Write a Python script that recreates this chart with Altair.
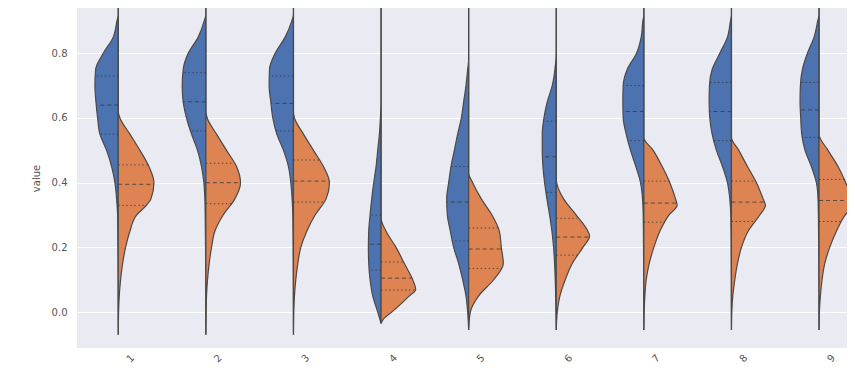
import altair as alt
import pandas as pd

# ---- categories / hues -------------------------------------------------
CATEGORIES = ["feature_1", "feature_2", "feature_3", "feature_4", "feature_5",
              "feature_6", "feature_7", "feature_8", "feature_9"]
HUES = ["0", "1"]
HUE_COLORS = ["#4C72B0", "#DD8452"]
DENSITY_UNIT = 262.8  # density reading that equals one category step

# ---- violin profiles: (value, density) ----------------------------------
V1_BLUE = [(0.95, 0), (0.92, 0), (0.90, 4), (0.85, 15), (0.80, 45), (0.75, 68), (0.70, 70),
           (0.65, 67), (0.60, 62), (0.55, 55), (0.50, 35), (0.45, 20), (0.40, 10), (0.35, 5),
           (0.30, 2), (0.20, 1), (0.10, 0.5), (0.00, 0.3), (-0.07, 0)]
V1_ORANGE = [(0.95, 0), (0.62, 0), (0.60, 5), (0.55, 35), (0.50, 65), (0.45, 92), (0.40, 107),
             (0.35, 98), (0.325, 80), (0.30, 55), (0.25, 35), (0.20, 22), (0.15, 13), (0.10, 7),
             (0.05, 3), (0.00, 1), (-0.07, 0)]
V2_BLUE = [(0.95, 0), (0.92, 0), (0.90, 5), (0.85, 23), (0.80, 53), (0.75, 68), (0.70, 71),
           (0.65, 68), (0.60, 58), (0.55, 43), (0.50, 25), (0.45, 13), (0.40, 6), (0.35, 3),
           (0.30, 2), (0.20, 1), (0.10, 0.5), (0.00, 0.3), (-0.07, 0)]
V2_ORANGE = [(0.95, 0), (0.62, 0), (0.60, 4), (0.55, 32), (0.50, 62), (0.45, 92), (0.40, 104),
             (0.35, 87), (0.30, 52), (0.25, 27), (0.20, 17), (0.15, 10), (0.10, 5), (0.05, 2),
             (0.00, 1), (-0.07, 0)]
V3_BLUE = [(0.95, 0), (0.92, 0), (0.90, 5), (0.85, 25), (0.80, 55), (0.75, 72), (0.70, 73),
           (0.65, 68), (0.60, 62), (0.55, 50), (0.50, 30), (0.45, 15), (0.40, 8), (0.35, 4),
           (0.30, 2), (0.20, 1), (0.10, 0.5), (0.00, 0.3), (-0.07, 0)]
V3_ORANGE = [(0.95, 0), (0.62, 0), (0.60, 3), (0.55, 30), (0.50, 60), (0.45, 90), (0.40, 108),
             (0.35, 98), (0.30, 65), (0.25, 40), (0.20, 22), (0.15, 13), (0.10, 7), (0.05, 3),
             (0.00, 1), (-0.07, 0)]
V4_BLUE = [(0.95, 0), (0.65, 0), (0.60, 2), (0.55, 5), (0.50, 10), (0.45, 15), (0.40, 22),
           (0.35, 28), (0.30, 33), (0.25, 37), (0.20, 38), (0.15, 37), (0.10, 33), (0.05, 25),
           (0.00, 10), (-0.035, 0)]
V4_ORANGE = [(0.95, 0), (0.29, 0), (0.25, 15), (0.20, 45), (0.15, 70), (0.10, 95), (0.07, 104),
             (0.05, 85), (0.00, 32), (-0.02, 8), (-0.035, 0)]
V5_BLUE = [(0.95, 0), (0.78, 0), (0.75, 3), (0.70, 8), (0.65, 15), (0.60, 22), (0.55, 33),
           (0.50, 43), (0.45, 53), (0.40, 60), (0.35, 66), (0.30, 64), (0.25, 55), (0.20, 45),
           (0.15, 30), (0.10, 18), (0.05, 8), (0.00, 3), (-0.055, 0)]
V5_ORANGE = [(0.95, 0), (0.43, 0), (0.40, 12), (0.35, 38), (0.30, 70), (0.25, 92), (0.20, 98),
             (0.15, 104), (0.10, 75), (0.05, 30), (0.00, 5), (-0.055, 0)]
V6_BLUE = [(0.95, 0), (0.80, 0), (0.75, 4), (0.70, 12), (0.65, 27), (0.60, 37), (0.55, 42),
           (0.50, 42), (0.45, 40), (0.40, 35), (0.35, 28), (0.30, 20), (0.25, 13), (0.20, 8),
           (0.15, 5), (0.10, 3), (0.00, 1), (-0.055, 0)]
V6_ORANGE = [(0.95, 0), (0.41, 0), (0.35, 22), (0.30, 60), (0.25, 95), (0.235, 100), (0.20, 80),
             (0.15, 48), (0.10, 27), (0.05, 11), (0.00, 3), (-0.055, 0)]
V7_BLUE = [(0.95, 0), (0.92, 0), (0.90, 3), (0.85, 8), (0.80, 22), (0.75, 50), (0.70, 62),
           (0.65, 63), (0.60, 62), (0.55, 53), (0.50, 40), (0.45, 24), (0.40, 10), (0.35, 4),
           (0.30, 2), (0.20, 1), (0.10, 0.5), (0.00, 0.3), (-0.055, 0)]
V7_ORANGE = [(0.95, 0), (0.54, 0), (0.50, 28), (0.45, 55), (0.40, 78), (0.35, 95), (0.33, 100),
             (0.30, 75), (0.25, 48), (0.20, 30), (0.15, 16), (0.10, 7), (0.05, 3), (0.00, 1),
             (-0.055, 0)]
V8_BLUE = [(0.95, 0), (0.92, 0), (0.90, 3), (0.85, 12), (0.80, 35), (0.75, 58), (0.70, 66),
           (0.65, 67), (0.60, 65), (0.55, 58), (0.50, 45), (0.45, 27), (0.40, 12), (0.35, 5),
           (0.30, 2), (0.20, 1), (0.10, 0.5), (0.00, 0.3), (-0.055, 0)]
V8_ORANGE = [(0.95, 0), (0.54, 0), (0.50, 22), (0.45, 48), (0.40, 75), (0.35, 95), (0.33, 102),
             (0.30, 85), (0.25, 50), (0.20, 30), (0.15, 18), (0.10, 10), (0.05, 4), (0.00, 1),
             (-0.055, 0)]
V9_BLUE = [(0.95, 0), (0.92, 0), (0.90, 4), (0.85, 15), (0.80, 35), (0.75, 50), (0.70, 56),
           (0.65, 57), (0.60, 55), (0.55, 52), (0.50, 42), (0.45, 23), (0.40, 8), (0.35, 3),
           (0.30, 2), (0.20, 1), (0.10, 0.5), (0.00, 0.3), (-0.055, 0)]
V9_ORANGE = [(0.95, 0), (0.55, 0), (0.50, 27), (0.45, 57), (0.40, 80), (0.35, 100), (0.33, 102),
             (0.30, 78), (0.25, 52), (0.20, 32), (0.15, 17), (0.10, 9), (0.05, 4), (0.00, 1),
             (-0.055, 0)]

BLUE_PROFILES = [V1_BLUE, V2_BLUE, V3_BLUE, V4_BLUE, V5_BLUE, V6_BLUE, V7_BLUE, V8_BLUE, V9_BLUE]
ORANGE_PROFILES = [V1_ORANGE, V2_ORANGE, V3_ORANGE, V4_ORANGE, V5_ORANGE, V6_ORANGE,
                   V7_ORANGE, V8_ORANGE, V9_ORANGE]

# ---- quartiles (value) and density at that value ------------------------
BLUE_Q3 = [0.73, 0.74, 0.73, 0.30, 0.45, 0.59, 0.70, 0.71, 0.71]
BLUE_Q3_D = [69, 69, 72, 33, 53, 39, 62, 66, 56]
BLUE_MED = [0.64, 0.65, 0.645, 0.21, 0.34, 0.48, 0.62, 0.62, 0.625]
BLUE_MED_D = [66, 68, 67, 38, 66, 41, 62, 66, 56]
BLUE_Q1 = [0.55, 0.56, 0.56, 0.13, 0.22, 0.37, 0.53, 0.53, 0.54]
BLUE_Q1_D = [55, 46, 53, 35, 50, 31, 48, 53, 50]

ORANGE_Q3 = [0.455, 0.46, 0.47, 0.155, 0.26, 0.29, 0.405, 0.405, 0.41]
ORANGE_Q3_D = [89, 86, 78, 68, 88, 62, 76, 72, 78]
ORANGE_MED = [0.395, 0.40, 0.405, 0.105, 0.195, 0.232, 0.337, 0.34, 0.345]
ORANGE_MED_D = [107, 104, 106, 93, 99, 98, 99, 99, 100]
ORANGE_Q1 = [0.33, 0.335, 0.34, 0.068, 0.135, 0.176, 0.278, 0.28, 0.28]
ORANGE_Q1_D = [78, 78, 93, 101, 97, 65, 63, 70, 68]

# ---- tables ------------------------------------------------------------
rows = []
for i, cat in enumerate(CATEGORIES):
    for hue, side, prof in ((HUES[0], -1, BLUE_PROFILES[i]), (HUES[1], 1, ORANGE_PROFILES[i])):
        for v, d in prof:
            rows.append({"pos": i, "category": cat, "hue": hue, "side": side,
                         "value": v, "density": d})
violins = pd.DataFrame(rows)

qrows = []
for i, cat in enumerate(CATEGORIES):
    for hue, side, qs in (
        (HUES[0], -1, [(BLUE_Q1, BLUE_Q1_D, "q"), (BLUE_MED, BLUE_MED_D, "m"), (BLUE_Q3, BLUE_Q3_D, "q")]),
        (HUES[1], 1, [(ORANGE_Q1, ORANGE_Q1_D, "q"), (ORANGE_MED, ORANGE_MED_D, "m"), (ORANGE_Q3, ORANGE_Q3_D, "q")]),
    ):
        for vals, dens, kind in qs:
            qrows.append({"pos": i, "category": cat, "hue": hue, "side": side,
                          "value": vals[i], "density": dens[i], "kind": kind})
quart = pd.DataFrame(qrows)

X_DOMAIN = [-0.471, 8.319]
Y_DOMAIN = [-0.111, 0.940]
label_expr = "[" + ",".join('"%s"' % c for c in CATEGORIES) + "][datum.value]"

x_axis = alt.Axis(values=list(range(len(CATEGORIES))), labelExpr=label_expr, title=None,
                  grid=False, domain=False, ticks=False, labelAngle=-45, labelAlign="right",
                  labelBaseline="middle", labelOffset=14, labelPadding=8,
                  labelFontSize=10, labelColor="#555555", labelFont="DejaVu Sans")
y_axis = alt.Axis(values=[0.0, 0.2, 0.4, 0.6, 0.8], format=".1f", title="value",
                  grid=True, gridColor="white", gridWidth=1, domain=False, ticks=False,
                  labelPadding=10, labelFontSize=10, labelColor="#555555",
                  labelFont="DejaVu Sans", titleFont="DejaVu Sans", titleFontSize=10,
                  titleFontWeight="normal", titleColor="#555555", titlePadding=10)

calc = dict(
    edge=f"datum.pos + datum.side * datum.density / {DENSITY_UNIT}",
    center="datum.pos",
)

areas = alt.Chart(violins).transform_calculate(**calc).mark_area(
    orient="horizontal", interpolate="monotone", stroke="#4a4a4a", strokeWidth=1.2,
    fillOpacity=1, clip=True,
).encode(
    y=alt.Y("value:Q", scale=alt.Scale(domain=Y_DOMAIN, nice=False, zero=False), axis=y_axis),
    x=alt.X("edge:Q", stack=None, scale=alt.Scale(domain=X_DOMAIN, nice=False, zero=False),
            axis=x_axis),
    x2="center:Q",
    color=alt.Color("hue:N", scale=alt.Scale(domain=HUES, range=HUE_COLORS), legend=None),
    detail="category:N",
)

q_base = alt.Chart(quart).transform_calculate(**calc).encode(
    y=alt.Y("value:Q"),
    x=alt.X("center:Q"),
    x2="edge:Q",
)
q_lines = q_base.transform_filter("datum.kind == 'q'").mark_rule(
    stroke="#3a3a3a", strokeWidth=1, strokeDash=[1.5, 2.5], opacity=0.8)
m_lines = q_base.transform_filter("datum.kind == 'm'").mark_rule(
    stroke="#3a3a3a", strokeWidth=1, strokeDash=[4, 3], opacity=0.8)

chart = alt.layer(areas, q_lines, m_lines).properties(
    width=770, height=340,
    autosize=alt.AutoSizeParams(type="none"),
    padding={"left": 69, "top": 0, "right": 0, "bottom": 15},
    background="white",
).configure_view(fill="#EAEAF2", stroke=None)

chart.save("out.html", embed_options={"renderer": "svg", "actions": False})
